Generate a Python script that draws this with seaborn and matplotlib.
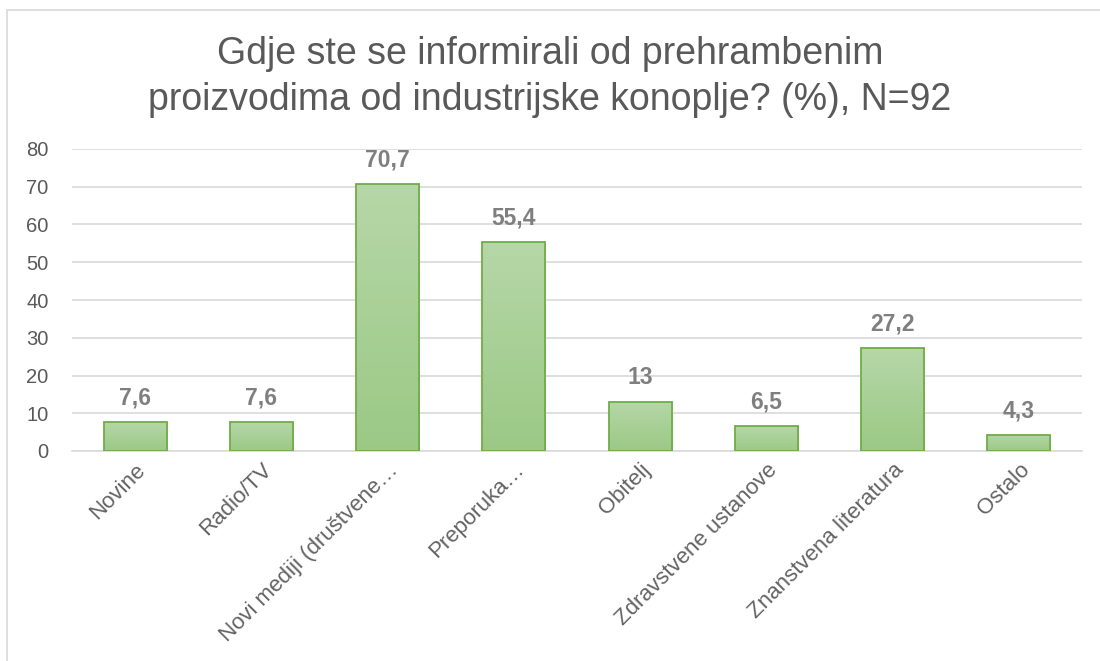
import numpy as np
import pandas as pd
import matplotlib
matplotlib.use("Agg")
import matplotlib.pyplot as plt
import seaborn as sns
from matplotlib.colors import LinearSegmentedColormap
from matplotlib.patches import Rectangle

categories = ["Novine", "Radio/TV", "Novi mediji (društvene…", "Preporuka…",
              "Obitelj", "Zdravstvene ustanove", "Znanstvena literatura", "Ostalo"]
values = [7.6, 7.6, 70.7, 55.4, 13, 6.5, 27.2, 4.3]
value_labels = ["7,6", "7,6", "70,7", "55,4", "13", "6,5", "27,2", "4,3"]
yticks = [0, 10, 20, 30, 40, 50, 60, 70, 80]
title = "Gdje ste se informirali od prehrambenim\nproizvodima od industrijske konoplje? (%), N=92"

sns.set_theme(style="white")
plt.rcParams["font.family"] = ["Liberation Sans", "DejaVu Sans"]

df = pd.DataFrame({"cat": categories, "val": values})

fig = plt.figure(figsize=(11, 6.61), dpi=100)
fig.patches.append(Rectangle((7/1100, -0.1), 1.2, (661-10)/661 + 0.1,
                             transform=fig.transFigure, fill=False,
                             edgecolor="#d9d9d9", linewidth=1.2))
ax = fig.add_axes([72/1100, 1-451/661, (1082-72)/1100, (451-149)/661])

sns.barplot(data=df, x="cat", y="val", ax=ax, color="#a9d18e",
            edgecolor="#70ad47", linewidth=1.3, width=0.5, zorder=3)

cmap = LinearSegmentedColormap.from_list("g", ["#9bc985", "#b6d7a8"])
grad = np.linspace(0, 1, 256).reshape(-1, 1)
for p in ax.patches:
    x0, y0 = p.get_x(), p.get_y()
    w, h = p.get_width(), p.get_height()
    im = ax.imshow(grad, cmap=cmap, origin="lower", aspect="auto",
                   extent=[x0, x0 + w, y0, y0 + h], zorder=3.5)
    im.set_clip_path(p)
    p.set_facecolor("none")
    p.set_zorder(4)

ax.set_xlim(-0.5, len(categories) - 0.5)
ax.set_ylim(0, 80)
ax.set_yticks(yticks)
ax.yaxis.grid(True, color="#d9d9d9", linewidth=1.2, zorder=0)
ax.set_axisbelow(True)
for s in ["top", "right", "left"]:
    ax.spines[s].set_visible(False)
ax.spines["bottom"].set_color("#d9d9d9")
ax.spines["bottom"].set_linewidth(1.2)
ax.set_xlabel("")
ax.set_ylabel("")
ax.tick_params(axis="y", labelsize=14.5, labelcolor="#595959", length=0, pad=17)
ax.tick_params(axis="x", labelsize=16, labelcolor="#636363", length=0, pad=6)
ax.set_xticks(range(len(categories)))
ax.set_xticklabels(categories, rotation=45, ha="right", rotation_mode="anchor")

for i, (v, lab) in enumerate(zip(values, value_labels)):
    ax.annotate(lab, (i, v), xytext=(0, 9), textcoords="offset points",
                ha="center", va="bottom", fontsize=16.5, fontweight="bold",
                color="#7f7f7f")

fig.text(0.5, 1-77/661, title, ha="center", va="center", fontsize=27,
         color="#595959", linespacing=1.38)

fig.savefig("out.png", dpi=100)
